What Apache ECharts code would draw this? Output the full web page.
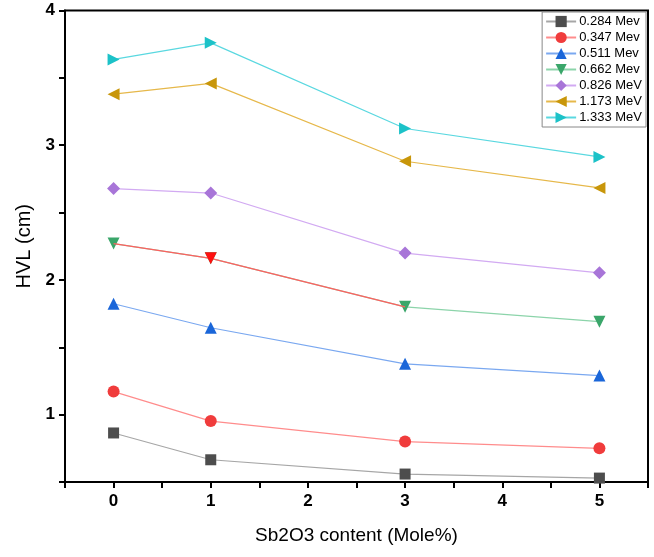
<!DOCTYPE html>
<html lang="en">
<head>
    <meta charset="UTF-8">
    <title>HVL vs Sb2O3 content</title>
    <script src="https://cdn.jsdelivr.net/npm/echarts@6/dist/echarts.min.js"></script>
    <style>
        * { margin: 0; padding: 0 }
        html, body { width: 100%; height: 100%; background: #fff; }
        #main { width: 654px; height: 557px; }
    </style>
</head>
<body>
<div id="main"></div>
<script type="text/javascript">
    // Sb2O3 content (mole %)
    var content = [0, 1, 3, 5];
    var names = ['0.284 Mev', '0.347 Mev', '0.511 Mev', '0.662 Mev', '0.826 MeV', '1.173 MeV', '1.333 MeV'];
    var hvl284 = [0.864, 0.665, 0.559, 0.529];
    var hvl347 = [1.171, 0.952, 0.800, 0.750];
    var hvl511 = [1.823, 1.645, 1.377, 1.290];
    var hvl662 = [2.270, 2.160, 1.800, 1.690];
    var hvl826 = [2.678, 2.645, 2.199, 2.053];
    var hvl1173 = [3.379, 3.459, 2.881, 2.683];
    var hvl1333 = [3.637, 3.760, 3.124, 2.913];

    var markColors = ['#4d4d4d', '#f03c3c', '#1a66d9', '#3aa66a', '#a875d8', '#c8960a', '#1cc2c8'];
    var lineColors = ['#a6a6a6', '#ff8c8c', '#7aa8f0', '#8cd4aa', '#d2aaf2', '#e6b84a', '#5ad8e0'];
    var symbols = ['rect', 'circle', 'triangle', 'triangle', 'diamond', 'triangle', 'triangle'];
    var rotates = [0, 0, 0, 180, 0, 90, -90];
    var sizes = [11, 12, 12, 12, 13, 12, 12];
    var allData = [hvl284, hvl347, hvl511, hvl662, hvl826, hvl1173, hvl1333];

    function pairs(vals) {
        return vals.map(function (v, i) { return [content[i], v]; });
    }

    var series = allData.map(function (vals, k) {
        return {
            name: names[k],
            type: 'line',
            data: pairs(vals),
            symbol: symbols[k],
            symbolSize: sizes[k],
            symbolRotate: rotates[k],
            z: 2 + k,
            itemStyle: { color: markColors[k] },
            lineStyle: { color: lineColors[k], width: 1.2 }
        };
    });

    // in the original the 0.662 line is red from 0 to 3, with a red marker at 1
    series.push({
        name: 'red part',
        type: 'line',
        data: pairs(hvl662).slice(0, 3).map(function (p, i) {
            return i === 1 ? { value: p } : { value: p, symbol: 'none' };
        }),
        symbol: 'triangle',
        symbolRotate: 180,
        symbolSize: 12,
        z: 6,
        itemStyle: { color: '#ff1010' },
        lineStyle: { color: '#ff6060', width: 1.2 }
    });

    var myChart = echarts.init(document.getElementById('main'));
    var option = {
        animation: false,
        textStyle: { fontFamily: 'Liberation Sans, Arial, sans-serif' },
        grid: {
            left: 65, right: 6, top: 10.5, bottom: 75,
            show: true, borderColor: '#000', borderWidth: 2, backgroundColor: 'transparent'
        },
        legend: {
            data: names,
            orient: 'vertical',
            right: 8, top: 12,
            padding: [3, 4, 3, 3],
            itemGap: 3,
            itemWidth: 30, itemHeight: 14,
            borderColor: '#888', borderWidth: 1,
            backgroundColor: '#fff',
            textStyle: { fontSize: 13, color: '#000', padding: [0, 0, 0, -2] }
        },
        xAxis: {
            type: 'value',
            min: -0.5, max: 5.5, interval: 0.5,
            name: 'Sb2O3 content (Mole%)',
            nameLocation: 'middle',
            nameGap: 44,
            nameTextStyle: { fontSize: 19, color: '#000' },
            axisLine: { onZero: false, lineStyle: { color: '#000', width: 2 } },
            axisTick: { inside: false, length: 6, lineStyle: { color: '#000', width: 2 } },
            axisLabel: {
                fontSize: 17, fontWeight: 'bold', color: '#000', margin: 11,
                formatter: function (v) { return Number.isInteger(v) && v >= 0 ? String(v) : ''; }
            },
            splitLine: { show: false }
        },
        yAxis: {
            type: 'value',
            min: 0.5, max: 4, interval: 0.5,
            name: 'HVL (cm)',
            nameLocation: 'middle',
            nameGap: 28,
            nameTextStyle: { fontSize: 20, color: '#000' },
            axisLine: { onZero: false, lineStyle: { color: '#000', width: 2 } },
            axisTick: { inside: false, length: 6, lineStyle: { color: '#000', width: 2 } },
            axisLabel: {
                fontSize: 17, fontWeight: 'bold', color: '#000', margin: 10,
                formatter: function (v) { return Number.isInteger(v) ? String(v) : ''; }
            },
            splitLine: { show: false }
        },
        series: series
    };
    myChart.setOption(option);
</script>
</body>
</html>
